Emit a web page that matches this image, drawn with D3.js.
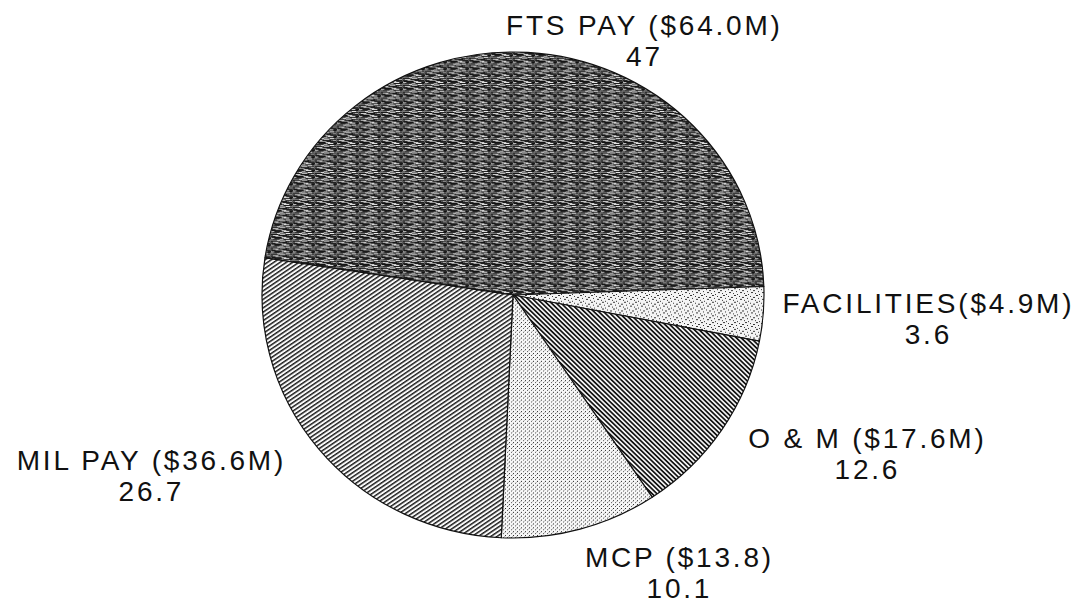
<!DOCTYPE html>
<html>
<head>
<meta charset="utf-8">
<script src="https://cdn.jsdelivr.net/npm/d3@7"></script>
<style>
  html, body { margin: 0; padding: 0; background: #fff; }
  svg { display: block; }
  text { font-family: "Liberation Sans", Arial, sans-serif; fill: #111; }
</style>
</head>
<body>
<svg id="chart" width="1077" height="614"></svg>
<script>
// ---- data ----
const categories = ["FTS PAY", "FACILITIES", "O & M", "MCP", "MIL PAY"];
const amounts = ["$64.0M", "$4.9M", "$17.6M", "$13.8", "$36.6M"];
const percents = [47, 3.6, 12.6, 10.1, 26.7];
const percentLabels = ["47", "3.6", "12.6", "10.1", "26.7"];
const labelSeparators = [" ", "", " ", " ", " "];

// ---- layout ----
const W = 1077, H = 614;
const cx = 513, cy = 295, rx = 251, ry = 243;
const startDeg = -81.2;
const labelPos = [ // label centre x, first baseline y
  [643, 35], [927, 313], [866, 448], [678, 567], [150, 470]
];
const lineGap = 31;

const svg = d3.select("#chart");
const defs = svg.append("defs");

// FTS PAY: dark noisy horizontal texture
const p0 = defs.append("pattern").attr("id", "p0").attr("patternUnits", "userSpaceOnUse")
  .attr("width", 22).attr("height", 7);
p0.append("rect").attr("width", 22).attr("height", 7).attr("fill", "#5c5c5c");
[[0,0,7,1,"#1a1a1a"],[9,0,5,1,"#b8b8b8"],[15,0,6,1,"#2a2a2a"],
 [2,1,5,1,"#d2d2d2"],[8,1,8,1,"#151515"],[18,1,3,1,"#aaa"],
 [0,2,4,1,"#222"],[5,2,6,1,"#9a9a9a"],[12,2,9,1,"#1c1c1c"],
 [1,3,9,1,"#111"],[11,3,4,1,"#ccc"],[16,3,6,1,"#333"],
 [0,4,3,1,"#bbb"],[4,4,7,1,"#202020"],[13,4,5,1,"#e0e0e0"],[19,4,3,1,"#111"],
 [2,5,6,1,"#2d2d2d"],[9,5,3,1,"#aaa"],[13,5,8,1,"#181818"],
 [0,6,22,1,"#777"],[6,6,3,1,"#ddd"],[15,6,4,1,"#eee"]
].forEach(r => p0.append("rect").attr("x", r[0]).attr("y", r[1]).attr("width", r[2]).attr("height", r[3]).attr("fill", r[4]));

// FACILITIES: sparse speckles on white
const p1 = defs.append("pattern").attr("id", "p1").attr("patternUnits", "userSpaceOnUse")
  .attr("width", 11).attr("height", 7);
p1.append("rect").attr("width", 11).attr("height", 7).attr("fill", "#f4f4f4");
[[1,0,2,1],[6,1,1,1],[9,2,2,1],[3,3,1,1],[0,5,1,1],[7,4,2,1],[4,6,1,1]]
  .forEach(r => p1.append("rect").attr("x", r[0]).attr("y", r[1]).attr("width", r[2]).attr("height", r[3]).attr("fill", "#333"));

// O & M: dense back-diagonal hatch
const p2 = defs.append("pattern").attr("id", "p2").attr("patternUnits", "userSpaceOnUse")
  .attr("width", 3.4).attr("height", 6).attr("patternTransform", "rotate(-45)");
p2.append("rect").attr("width", 3.4).attr("height", 6).attr("fill", "#f2f2f2");
p2.append("rect").attr("width", 1.7).attr("height", 6).attr("fill", "#141414");

// MCP: light dotted stipple
const p3 = defs.append("pattern").attr("id", "p3").attr("patternUnits", "userSpaceOnUse")
  .attr("width", 4).attr("height", 4);
p3.append("rect").attr("width", 4).attr("height", 4).attr("fill", "#f7f7f7");
p3.append("rect").attr("x", 0).attr("y", 0).attr("width", 1).attr("height", 1).attr("fill", "#222");
p3.append("rect").attr("x", 2).attr("y", 2).attr("width", 1).attr("height", 1).attr("fill", "#555");
p3.append("rect").attr("x", 3).attr("y", 1).attr("width", 1).attr("height", 1).attr("fill", "#bbb");

// MIL PAY: forward-diagonal hatch
const p4 = defs.append("pattern").attr("id", "p4").attr("patternUnits", "userSpaceOnUse")
  .attr("width", 3.6).attr("height", 6).attr("patternTransform", "rotate(55)");
p4.append("rect").attr("width", 3.6).attr("height", 6).attr("fill", "#fafafa");
p4.append("rect").attr("width", 1.5).attr("height", 6).attr("fill", "#1a1a1a");

const fills = ["url(#p0)", "url(#p1)", "url(#p2)", "url(#p3)", "url(#p4)"];

const startA = startDeg * Math.PI / 180;
const pie = d3.pie().sort(null).value(d => d)
  .startAngle(startA).endAngle(startA + 2 * Math.PI);
const arc = d3.arc().innerRadius(0).outerRadius(rx);

const g = svg.append("g")
  .attr("transform", `translate(${cx},${cy}) scale(1,${ry / rx})`);

g.selectAll("path.slice")
  .data(pie(percents))
  .join("path")
  .attr("class", "slice")
  .attr("d", arc)
  .attr("fill", (d, i) => fills[i])
  .attr("stroke", "#111")
  .attr("stroke-width", 1.2)
  .attr("stroke-linejoin", "round")
  .attr("vector-effect", "non-scaling-stroke");

// ---- labels ----
const ls = 2.8;
const lab = svg.append("g").attr("font-size", 28).attr("letter-spacing", ls);
categories.forEach((c, i) => {
  const [x, y] = labelPos[i];
  lab.append("text")
    .attr("x", x + ls / 2).attr("y", y)
    .attr("text-anchor", "middle")
    .text(`${c}${labelSeparators[i]}(${amounts[i]})`);
  lab.append("text")
    .attr("x", x + ls / 2).attr("y", y + lineGap)
    .attr("text-anchor", "middle")
    .text(percentLabels[i]);
});
</script>
</body>
</html>
